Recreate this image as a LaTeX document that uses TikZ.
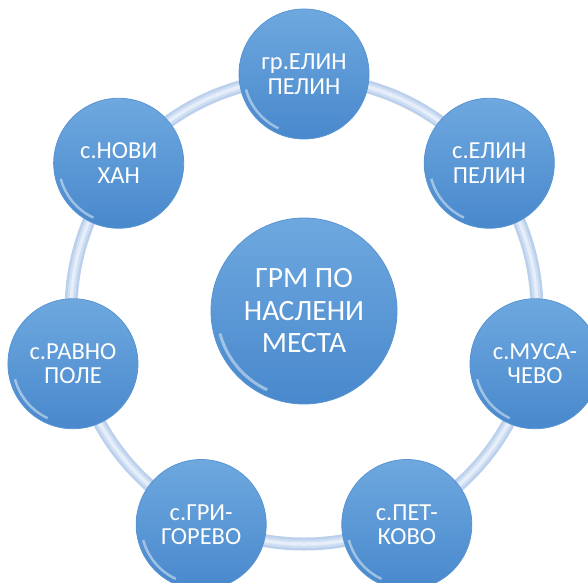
\documentclass[tikz,border=0pt]{standalone}
\usepackage{fontspec}
\setmainfont{Carlito}
\usetikzlibrary{positioning}

\definecolor{ballTop}{RGB}{110,168,223}
\definecolor{ballBottom}{RGB}{72,136,204}
\definecolor{ballRim}{RGB}{88,148,210}
\definecolor{ringOuter}{RGB}{188,208,236}
\definecolor{ringMid}{RGB}{206,222,243}
\definecolor{ringInner}{RGB}{230,238,250}

\begin{document}
\begin{tikzpicture}[
	align=center,
	text=white,
	ball/.style={
		circle,
		top color=ballTop,
		bottom color=ballBottom,
		draw=ballRim,
		line width=0.8pt,
		inner sep=0pt
	},
	village/.style={
		ball,
		minimum size=130pt,
		font=\fontsize{24.5}{24.5}\selectfont,
		path picture={
			\draw[white, opacity=0.45, line width=2.5pt]
			([shift={(195:60pt)}]path picture bounding box.center)
			arc[start angle=195, end angle=245, radius=60pt];
		}
	},
	hub/.style={
		ball,
		minimum size=186pt,
		font=\fontsize{29.5}{32.5}\selectfont,
		path picture={
			\draw[white, opacity=0.45, line width=3pt]
			([shift={(195:87pt)}]path picture bounding box.center)
			arc[start angle=195, end angle=245, radius=87pt];
		}
	}]

   \clip (-304pt,-271pt) rectangle (284pt,311pt);

   % ring behind the places
   \draw[ringOuter, line width=13pt] (0,0) circle (233pt);
   \draw[ringMid, line width=8pt] (0,0) circle (233pt);
   \draw[ringInner, line width=3.5pt] (0,0) circle (233pt);

   \node[hub] (grm) at (0,0) {ГРМ ПО \\ НАСЛЕНИ \\ МЕСТА};

   \node[village] (p_0) at (90:237pt)     {гр.ЕЛИН \\ ПЕЛИН};
   \node[village] (p_1) at (38.57:237pt)  {с.ЕЛИН \\ ПЕЛИН};
   \node[village] (p_2) at (-12.86:237pt) {с.МУСА- \\ ЧЕВО};
   \node[village] (p_3) at (-64.29:237pt) {с.ПЕТ- \\ КОВО};
   \node[village] (p_4) at (-115.71:237pt) {с.ГРИ- \\ ГОРЕВО};
   \node[village] (p_5) at (-167.14:237pt) {с.РАВНО \\ ПОЛЕ};
   \node[village] (p_6) at (141.43:237pt) {с.НОВИ \\ ХАН};
\end{tikzpicture}
\end{document}
